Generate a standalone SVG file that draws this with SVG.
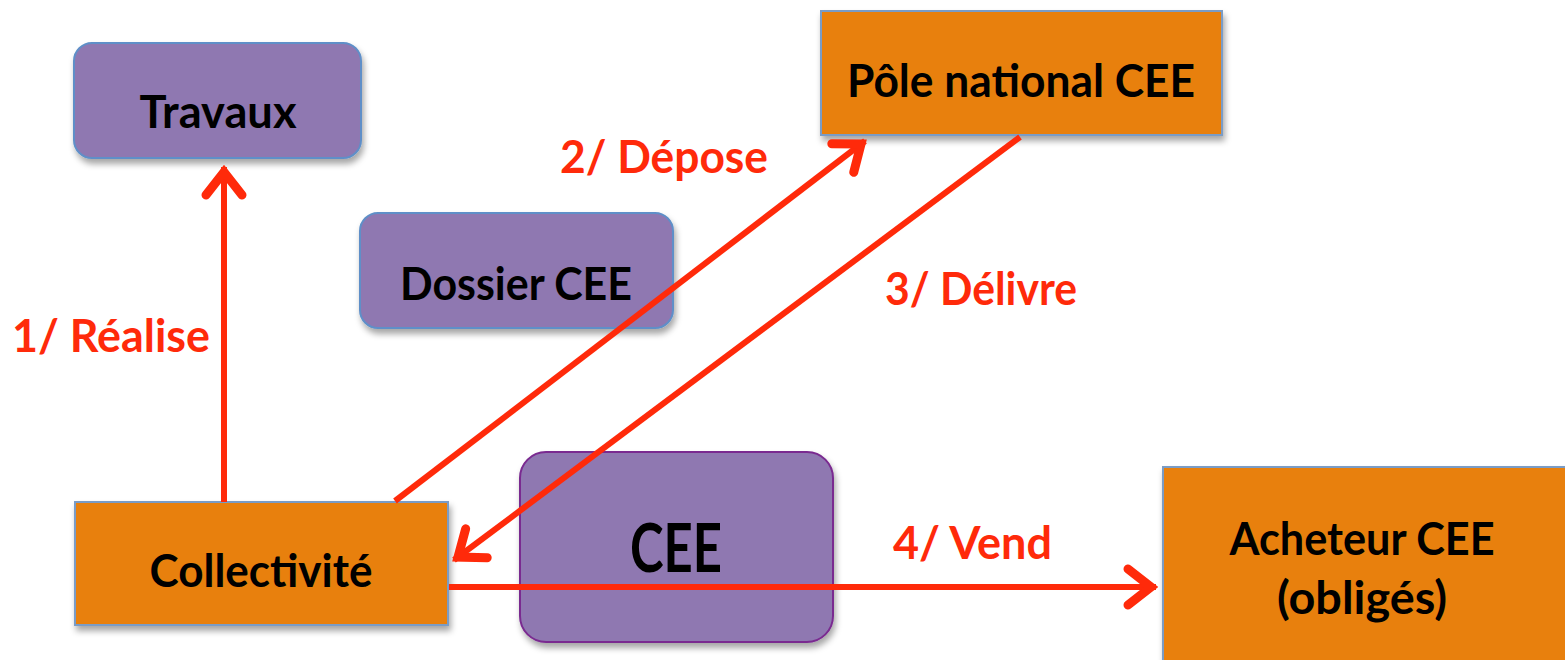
<svg xmlns="http://www.w3.org/2000/svg" width="1565" height="660" viewBox="0 0 1565 660">
<defs>
<style>
.purple{fill:#8f78b1;stroke:#5f8fc8;stroke-width:2}
.orange{fill:#e8800a;stroke:#7a9cc6;stroke-width:2}
.cee{fill:#8f78b1;stroke:#7a2a90;stroke-width:2}
.t{font-family:"Lato","Liberation Sans",Arial,sans-serif;font-weight:bold;font-size:46px;fill:#000;text-anchor:middle}
.big{font-size:66px}
.lbl{font-family:"Lato","Liberation Sans",Arial,sans-serif;font-weight:bold;font-size:46px;fill:#ff2a0a}
.edge{stroke:#ff2a0a;stroke-width:6;fill:none;marker-end:url(#ah)}
</style>
<filter id="sh" x="-10%" y="-10%" width="130%" height="140%">
<feDropShadow dx="2" dy="5" stdDeviation="3" flood-color="#000" flood-opacity="0.35"/>
</filter>
<marker id="ah" markerUnits="userSpaceOnUse" markerWidth="70" markerHeight="70" viewBox="-50 -35 70 70" refX="0" refY="0" orient="auto" overflow="visible">
<path d="M-28,-18 L-5,0 L-28,18" fill="none" stroke="#ff2a0a" stroke-width="9" stroke-linecap="round" stroke-linejoin="miter"/>
</marker>
</defs>
<rect width="1565" height="660" fill="#fff"/>
<g id="travaux">
<rect class="purple" x="74" y="43" width="287" height="115" rx="18" filter="url(#sh)"/>
<text class="t" x="218" y="128" textLength="157" lengthAdjust="spacingAndGlyphs">Travaux</text>
</g>
<g id="pole">
<rect class="orange" x="821" y="11" width="401" height="124" filter="url(#sh)"/>
<text class="t" x="1021" y="97" textLength="348" lengthAdjust="spacingAndGlyphs">Pôle national CEE</text>
</g>
<g id="dossier">
<rect class="purple" x="360" y="213" width="313" height="115" rx="18" filter="url(#sh)"/>
<text class="t" x="516" y="300" textLength="232" lengthAdjust="spacingAndGlyphs">Dossier CEE</text>
</g>
<g id="cee">
<rect class="cee" x="520" y="452" width="313" height="190" rx="26" filter="url(#sh)"/>
<text class="t big" x="676" y="572" textLength="92" lengthAdjust="spacingAndGlyphs">CEE</text>
</g>
<g id="collectivite">
<rect class="orange" x="75" y="502" width="373" height="123" filter="url(#sh)"/>
<text class="t" x="261" y="587" textLength="223" lengthAdjust="spacingAndGlyphs">Collectivité</text>
</g>
<g id="acheteur">
<rect class="orange" x="1163" y="467" width="410" height="200" filter="url(#sh)"/>
<text class="t" x="1362" y="555" textLength="265" lengthAdjust="spacingAndGlyphs">Acheteur CEE</text>
<text class="t" x="1362" y="614" textLength="170" lengthAdjust="spacingAndGlyphs">(obligés)</text>
</g>
<g id="connectors">
<line class="edge" x1="224" y1="502" x2="224" y2="167"/>
<line class="edge" x1="395" y1="501" x2="865" y2="141"/>
<line class="edge" x1="1020" y1="137" x2="454" y2="560"/>
<line class="edge" x1="449" y1="587" x2="1156" y2="587"/>
</g>
<g id="labels">
<text class="lbl" x="12" y="352" textLength="198" lengthAdjust="spacingAndGlyphs">1/ Réalise</text>
<text class="lbl" x="560" y="173" textLength="208" lengthAdjust="spacingAndGlyphs">2/ Dépose</text>
<text class="lbl" x="885" y="305" textLength="192" lengthAdjust="spacingAndGlyphs">3/ Délivre</text>
<text class="lbl" x="893" y="559" textLength="159" lengthAdjust="spacingAndGlyphs">4/ Vend</text>
</g>
</svg>
